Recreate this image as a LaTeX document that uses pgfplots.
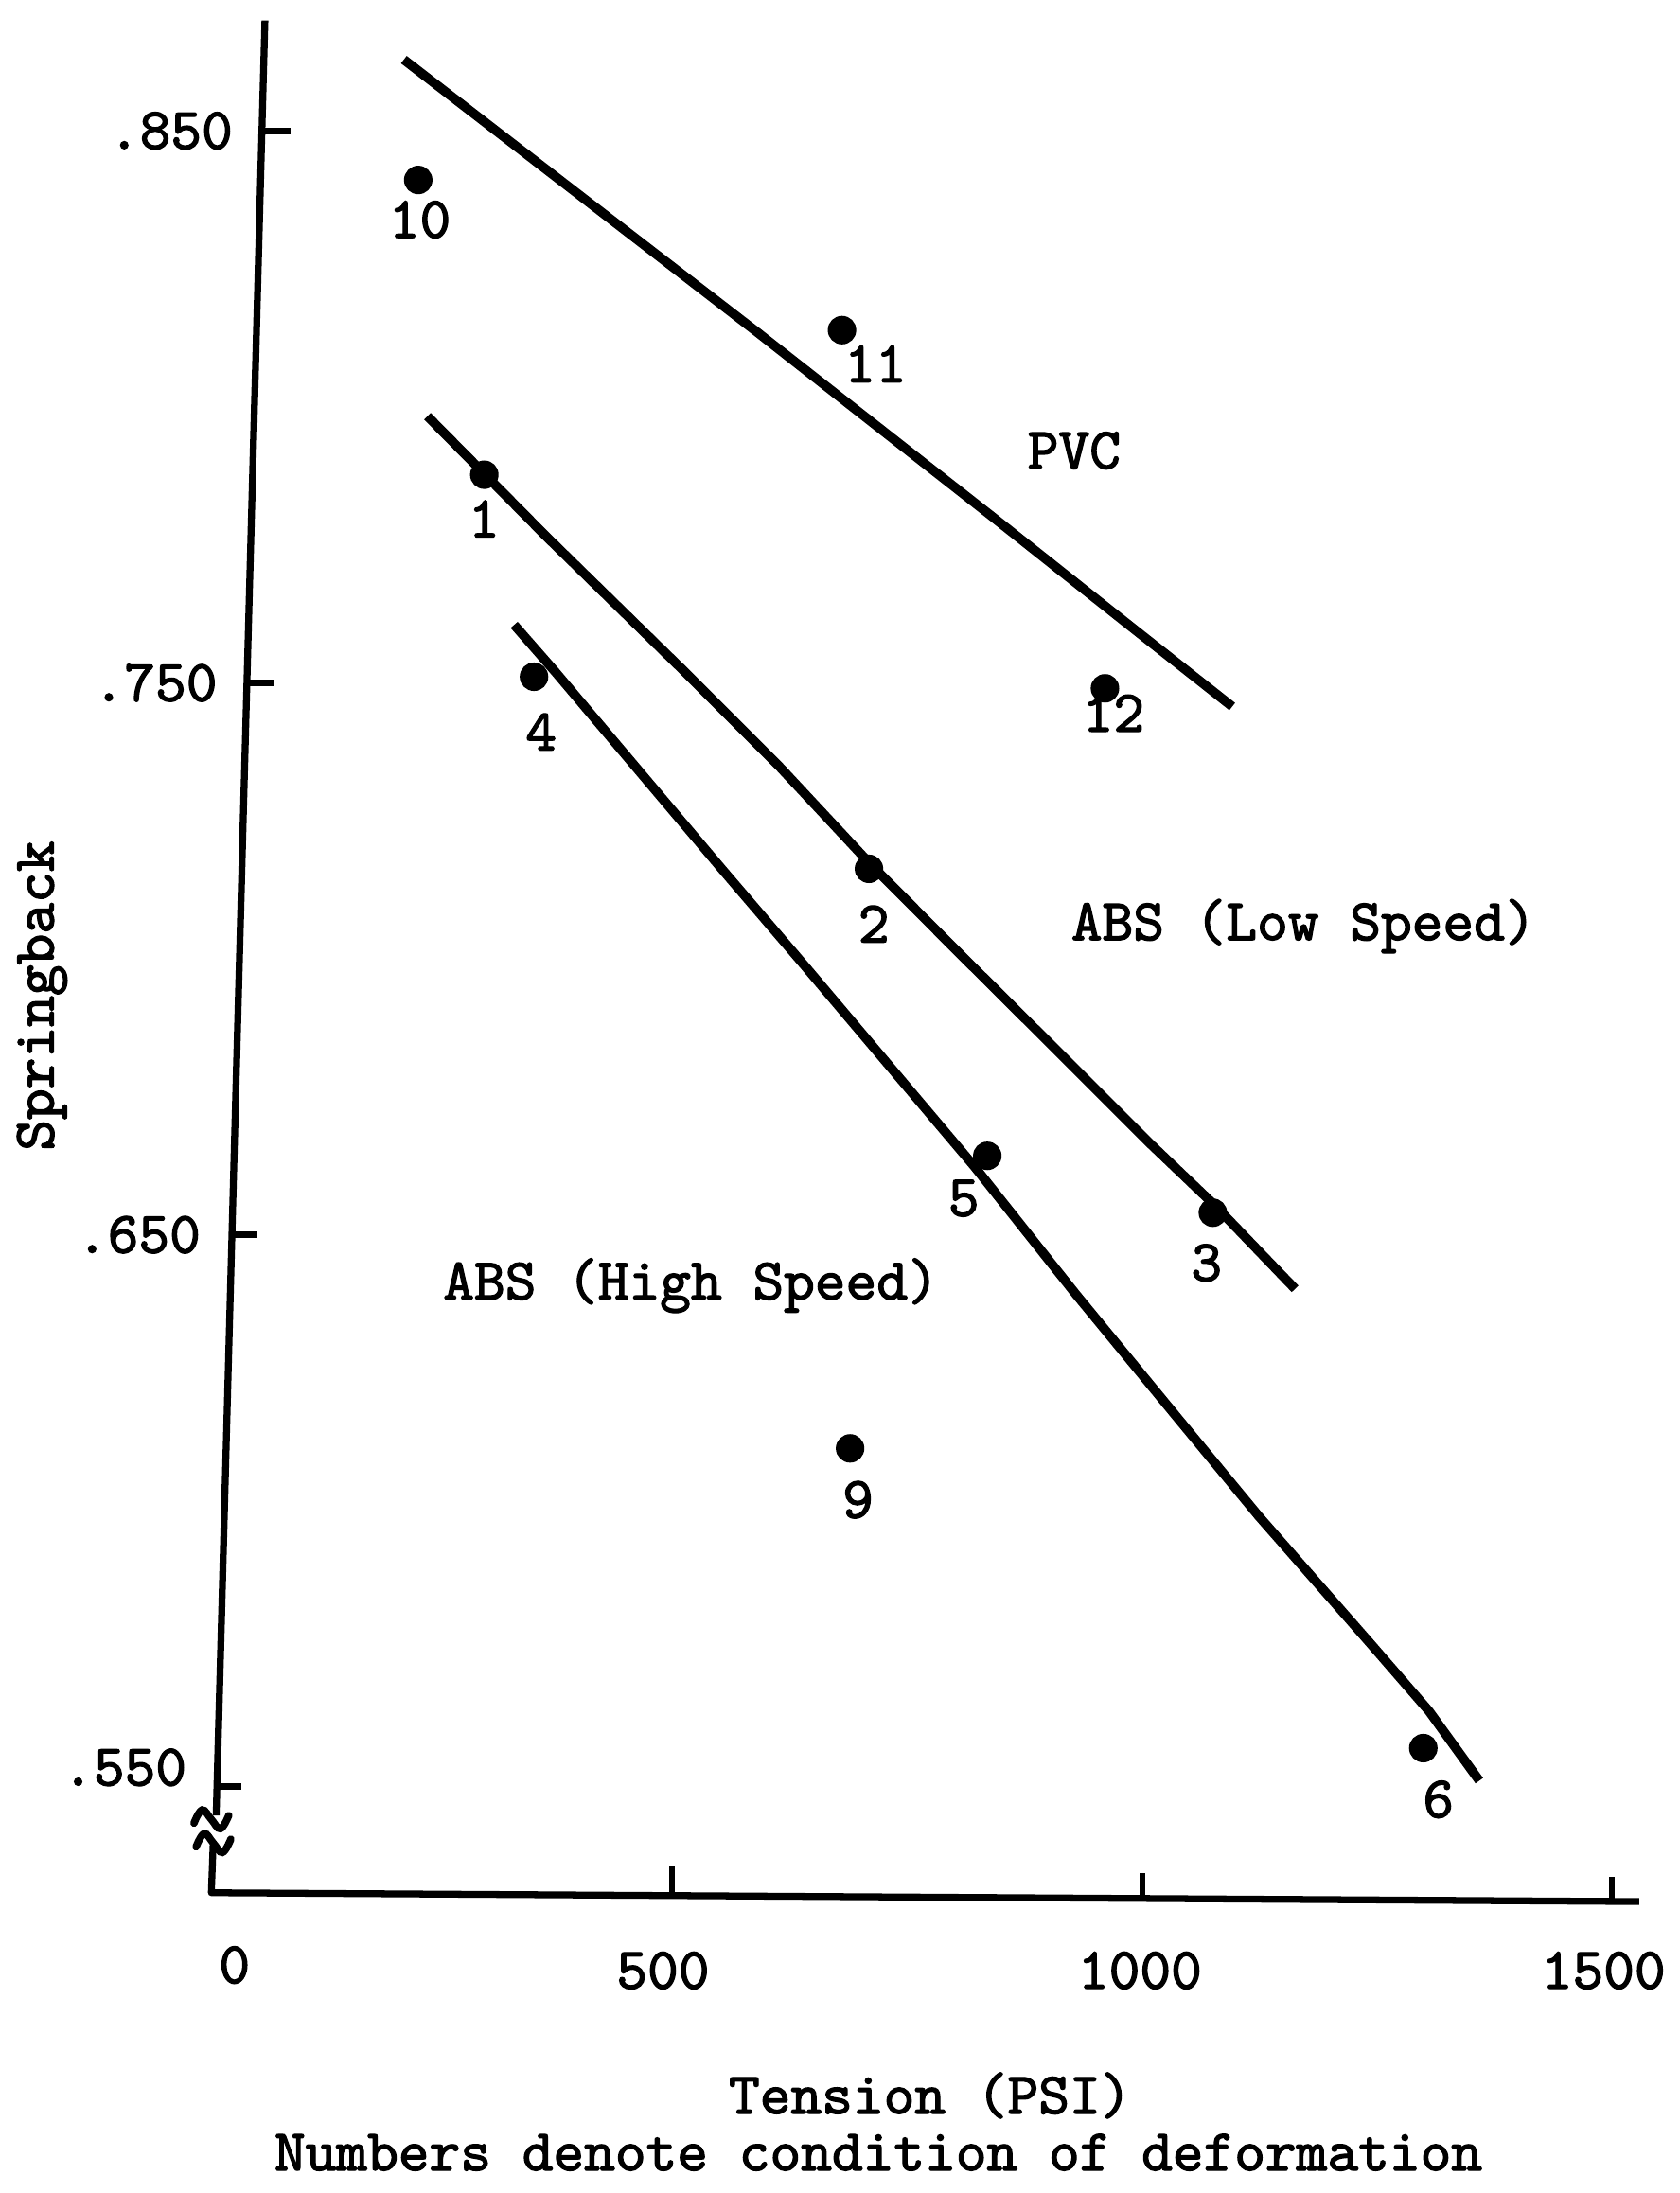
\documentclass[border=0pt]{standalone}
\usepackage{pgfplots}
\usepackage{pgfplotstable}
\pgfplotsset{compat=1.18}
\usepackage{fontspec}
% typewriter face for every label
\newfontfamily\tw[Extension=.otf,FakeBold=2]{lmmono10-regular}

% fitted lines (hand drawn, so given as polylines)
\pgfplotstableread{
x y
214.3 0.8629
591.2 0.8134
841.2 0.7800
990.0 0.7599
1095.7 0.7457
}\pvcline
\pgfplotstableread{
x y
239.4 0.7983
365.3 0.7766
509.5 0.7526
613.5 0.7349
711.0 0.7171
808.3 0.7005
925.7 0.6806
1009.7 0.6663
1076.8 0.6554
1162.6 0.6402
}\abslow
\pgfplotstableread{
x y
331.7 0.7605
375.4 0.7520
554.0 0.7160
640.5 0.6988
821.7 0.6623
929.0 0.6393
1039.1 0.6165
1124.0 0.5990
1244.5 0.5756
1305.1 0.5637
1358.6 0.5511
}\abshigh
% measured conditions of deformation
\pgfplotstableread{
x y n
229.6 0.8411 10
680.5 0.8139 11
960.3 0.7490 12
299.9 0.7877 1
709.2 0.7163 2
1075.1 0.6540 3
352.8 0.7511 4
835.1 0.6643 5
1299.0 0.5570 6
689.1 0.6113 9
}\points

\begin{document}
\begin{tikzpicture}[x=1mm,y=1mm,
  tt/.style={font=\tw\fontsize{12pt}{14pt}\selectfont, inner sep=0pt}]
\useasboundingbox (0,0) rectangle (120.1,156.8);
\begin{axis}[
  at={(13.13mm,19.18mm)}, anchor=south west,
  width=104.83mm, height=136.55mm, scale only axis,
  xmin=-20, xmax=1540, ymin=0.525, ymax=0.871,
  hide axis, clip=false,
]
% axes, drawn by hand with a break in the springback axis
\draw[line width=1.4pt] (axis cs:66.5,0.8700) -- (axis cs:14.6,0.5448);
\draw[line width=1.4pt, line join=round] (axis cs:11.4,0.5396) -- (axis cs:9.5,0.5308) -- (axis cs:1528.7,0.5292);
% break marks
\draw[line width=1.5pt, line cap=round] plot[smooth, tension=0.7] coordinates {
  (axis cs:-9.0,0.5434) (axis cs:-0.3,0.5458) (axis cs:9.4,0.5441) (axis cs:19.1,0.5424) (axis cs:28.0,0.5448)};
\draw[line width=1.5pt, line cap=round] plot[smooth, tension=0.7] coordinates {
  (axis cs:-6.8,0.5391) (axis cs:1.9,0.5415) (axis cs:11.6,0.5398) (axis cs:21.3,0.5381) (axis cs:30.2,0.5405)};
% y ticks
\draw[line width=1.4pt] (axis cs:63.3,0.850) -- (axis cs:93.3,0.850);
\draw[line width=1.4pt] (axis cs:47.3,0.750) -- (axis cs:75.3,0.750);
\draw[line width=1.4pt] (axis cs:31.3,0.650) -- (axis cs:58.3,0.650);
\draw[line width=1.4pt] (axis cs:15.3,0.550) -- (axis cs:41.3,0.550);
% x ticks
\draw[line width=1.2pt] (axis cs:500,0.5303) -- (axis cs:500,0.5357);
\draw[line width=1.2pt] (axis cs:1000,0.5298) -- (axis cs:1000,0.5343);
\draw[line width=1.2pt] (axis cs:1500,0.5292) -- (axis cs:1500,0.5337);
% tick labels
\node[tt, anchor=east] at (axis cs:33.2,0.850) {.850};
\node[tt, anchor=east] at (axis cs:16.8,0.750) {.750};
\node[tt, anchor=east] at (axis cs:-1.0,0.650) {.650};
\node[tt, anchor=east] at (axis cs:-15.9,0.5535) {.550};
\node[tt] at (axis cs:34.1,0.5177) {0};
\node[tt] at (axis cs:490,0.5167) {500};
\node[tt] at (axis cs:997.5,0.5167) {1000};
\node[tt] at (axis cs:1490.8,0.5167) {1500};
% axis titles
\node[tt, rotate=90] at (axis cs:-170.7,0.6933) {Springback};
\node[tt, anchor=base] at (axis cs:774.3,0.4908) {Tension (PSI)};
\node[tt, anchor=base] at (axis cs:719.2,0.4805) {Numbers denote condition of deformation};
% fitted lines
\addplot[line width=1.9pt, line join=round] table {\pvcline};
\addplot[line width=1.9pt, line join=round] table {\abslow};
\addplot[line width=1.9pt, line join=round] table {\abshigh};
% points
\addplot[only marks, mark=*, mark size=2.7pt, black] table[x=x, y=y] {\points};
% point numbers
\node[tt] at (axis cs:231.3,0.8339) {10};
\node[tt] at (axis cs:716.2,0.8078) {11};
\node[tt] at (axis cs:969.3,0.7445) {12};
\node[tt] at (axis cs:299.6,0.7797) {1};
\node[tt] at (axis cs:714.3,0.7063) {2};
\node[tt] at (axis cs:1068.3,0.6449) {3};
\node[tt] at (axis cs:360.3,0.7411) {4};
\node[tt] at (axis cs:810.0,0.6566) {5};
\node[tt] at (axis cs:1315.0,0.5477) {6};
\node[tt] at (axis cs:697.5,0.6020) {9};
% series names
\node[tt, anchor=base] at (axis cs:927.5,0.7888) {PVC};
\node[tt, anchor=base] at (axis cs:1171.6,0.7034) {ABS (Low Speed)};
\node[tt, anchor=base] at (axis cs:519.8,0.6383) {ABS (High Speed)};
\end{axis}
\end{tikzpicture}
\end{document}
